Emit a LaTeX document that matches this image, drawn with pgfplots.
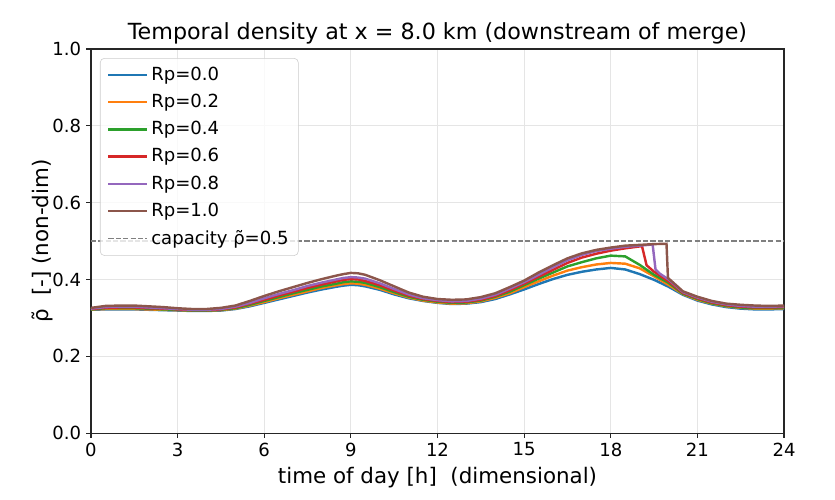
\documentclass[border=0pt]{standalone}
\usepackage{fontspec}
\setmainfont{DejaVu Sans}
\usepackage{pgfplots}
\pgfplotsset{compat=1.18}
\definecolor{c0}{HTML}{1F77B4}
\definecolor{c1}{HTML}{FF7F0E}
\definecolor{c2}{HTML}{2CA02C}
\definecolor{c3}{HTML}{D62728}
\definecolor{c4}{HTML}{9467BD}
\definecolor{c5}{HTML}{8C564B}
\begin{document}
\begin{tikzpicture}
\begin{axis}[
  scale only axis, width=499pt, height=276.5pt,
  xmin=0, xmax=24, ymin=0, ymax=1,
  xtick={0,3,...,24}, ytick={0,0.2,0.4,0.6,0.8,1.0},
  yticklabel style={/pgf/number format/.cd, fixed, fixed zerofill, precision=1},
  /pgf/number format/assume math mode=true,
  tick label style={font=\fontsize{13}{15}\selectfont},
  every axis title shift=0pt,
  title style={font=\fontsize{16}{19}\selectfont, at={(axis description cs:0.5,1.0416)}, anchor=center},
  title={Temporal density at x = 8.0 km (downstream of merge)},
  xlabel style={font=\fontsize{15.4}{18}\selectfont, at={(axis description cs:0.5,-0.1147)}, anchor=center},
  ylabel style={font=\fontsize{15.4}{18}\selectfont, at={(axis description cs:-0.0701,0.5)}, anchor=center},
  xlabel={time of day [h]\ \ (dimensional)},
  ylabel={ρ̃\ \ [-] (non-dim)},
  grid=major, major grid style={black!10, line width=0.6pt},
  axis line style={black!85, line width=0.8pt},
  tick style={black!85, line width=0.8pt},
  tick align=outside, major tick length=3.5pt, tick pos=left,
  legend cell align=left,
  legend image code/.code={\draw[#1] (0pt,0pt) -- (28pt,0pt);},
  legend style={at={(axis description cs:0.013,0.9765)}, anchor=north west,
    draw=black!20, rounded corners=3pt, fill=white, fill opacity=0.8, text opacity=1,
    font=\fontsize{13}{15}\selectfont, row sep=4pt, inner xsep=5pt, inner ysep=4pt,
    nodes={text depth=2pt}},
]
\addplot[c0, line width=1.75pt] coordinates {(0,.321)(0.5,.322)(1,.322)(1.5,.322)(2,.321)(2.5,.320)(3,.319)(3.5,.318)(4,.318)(4.5,.319)(5,.323)(5.5,.330)(6,.339)(6.5,.348)(7,.357)(7.5,.366)(8,.374)(8.5,.381)(8.75,.384)(9,.386)(9.25,.385)(9.5,.382)(10,.373)(10.5,.361)(11,.351)(11.5,.344)(12,.339)(12.5,.336)(13,.337)(13.5,.341)(14,.349)(14.5,.361)(15,.374)(15.5,.388)(16,.401)(16.5,.412)(17,.420)(17.5,.426)(18,.430)(18.5,.426)(19,.414)(19.5,.399)(20,.381)(20.5,.360)(21,.345)(21.5,.335)(22,.328)(22.5,.324)(23,.322)(23.5,.322)(24,.323)};
\addlegendentry{Rp=0.0}
\addplot[c1, line width=1.75pt] coordinates {(0,.322)(0.5,.323)(1,.323)(1.5,.323)(2,.322)(2.5,.321)(3,.320)(3.5,.319)(4,.319)(4.5,.320)(5,.324)(5.5,.332)(6,.341)(6.5,.351)(7,.360)(7.5,.369)(8,.378)(8.5,.385)(8.75,.388)(9,.390)(9.25,.389)(9.5,.386)(10,.376)(10.5,.364)(11,.353)(11.5,.345)(12,.340)(12.5,.337)(13,.338)(13.5,.343)(14,.352)(14.5,.364)(15,.380)(15.5,.395)(16,.410)(16.5,.423)(17,.432)(17.5,.439)(18,.443)(18.5,.441)(19,.429)(19.5,.408)(20,.386)(20.5,.362)(21,.347)(21.5,.337)(22,.330)(22.5,.326)(23,.324)(23.5,.324)(24,.325)};
\addlegendentry{Rp=0.2}
\addplot[c2, line width=1.75pt] coordinates {(0,.322)(0.5,.325)(1,.325)(1.5,.325)(2,.324)(2.5,.322)(3,.321)(3.5,.319)(4,.319)(4.5,.321)(5,.325)(5.5,.334)(6,.344)(6.5,.354)(7,.364)(7.5,.373)(8,.382)(8.5,.389)(8.75,.393)(9,.395)(9.25,.394)(9.5,.391)(10,.380)(10.5,.367)(11,.355)(11.5,.347)(12,.342)(12.5,.339)(13,.340)(13.5,.345)(14,.355)(14.5,.368)(15,.385)(15.5,.402)(16,.418)(16.5,.434)(17,.445)(17.5,.455)(18,.462)(18.5,.460)(19,.438)(19.5,.412)(20,.391)(20.5,.363)(21,.349)(21.5,.338)(22,.331)(22.5,.327)(23,.325)(23.5,.325)(24,.326)};
\addlegendentry{Rp=0.4}
\addplot[c3, line width=1.75pt] coordinates {(0,.323)(0.5,.326)(1,.327)(1.5,.327)(2,.325)(2.5,.324)(3,.322)(3.5,.320)(4,.320)(4.5,.322)(5,.327)(5.5,.337)(6,.347)(6.5,.358)(7,.368)(7.5,.378)(8,.387)(8.5,.395)(8.75,.399)(9,.401)(9.25,.400)(9.5,.396)(10,.385)(10.5,.371)(11,.358)(11.5,.349)(12,.344)(12.5,.341)(13,.342)(13.5,.347)(14,.357)(14.5,.372)(15,.389)(15.5,.407)(16,.425)(16.5,.443)(17,.457)(17.5,.467)(18,.475)(18.5,.481)(19,.486)(19.08,.487)(19.24,.437)(19.5,.420)(20,.395)(20.5,.365)(21,.351)(21.5,.340)(22,.333)(22.5,.329)(23,.327)(23.5,.327)(24,.328)};
\addlegendentry{Rp=0.6}
\addplot[c4, line width=1.75pt] coordinates {(0,.324)(0.5,.328)(1,.329)(1.5,.329)(2,.327)(2.5,.325)(3,.323)(3.5,.321)(4,.321)(4.5,.323)(5,.329)(5.5,.339)(6,.351)(6.5,.362)(7,.372)(7.5,.383)(8,.392)(8.5,.400)(8.75,.404)(9,.406)(9.25,.405)(9.5,.402)(10,.390)(10.5,.375)(11,.361)(11.5,.351)(12,.346)(12.5,.343)(13,.344)(13.5,.350)(14,.360)(14.5,.376)(15,.393)(15.5,.412)(16,.432)(16.5,.450)(17,.464)(17.5,.474)(18,.480)(18.5,.485)(19,.488)(19.45,.491)(19.55,.426)(19.7,.415)(20,.400)(20.5,.367)(21,.353)(21.5,.342)(22,.335)(22.5,.331)(23,.329)(23.5,.329)(24,.330)};
\addlegendentry{Rp=0.8}
\addplot[c5, line width=1.75pt] coordinates {(0,.326)(0.5,.331)(1,.332)(1.5,.332)(2,.330)(2.5,.328)(3,.325)(3.5,.323)(4,.323)(4.5,.326)(5,.332)(5.5,.344)(6,.357)(6.5,.369)(7,.380)(7.5,.391)(8,.401)(8.5,.410)(8.75,.414)(9,.417)(9.25,.416)(9.5,.412)(10,.398)(10.5,.382)(11,.366)(11.5,.355)(12,.349)(12.5,.347)(13,.348)(13.5,.354)(14,.364)(14.5,.380)(15,.397)(15.5,.418)(16,.437)(16.5,.455)(17,.468)(17.5,.477)(18,.483)(18.5,.488)(19,.490)(19.5,.492)(19.93,.493)(19.98,.404)(20.5,.369)(21,.355)(21.5,.344)(22,.337)(22.5,.334)(23,.332)(23.5,.331)(24,.332)};
\addlegendentry{Rp=1.0}
\addplot[gray, line width=1pt, dash pattern=on 3.7pt off 1.6pt] coordinates {(0,0.5)(24,0.5)};
\addlegendentry{capacity ρ̃=0.5}
\coordinate (bl) at (rel axis cs:0,0);
\coordinate (tr) at (rel axis cs:1,1);
\end{axis}
\pgfresetboundingbox
\path ([shift={(-65.5pt,-47.5pt)}]bl) rectangle ([shift={(36.7pt,35.3pt)}]tr);
\end{tikzpicture}
\end{document}
